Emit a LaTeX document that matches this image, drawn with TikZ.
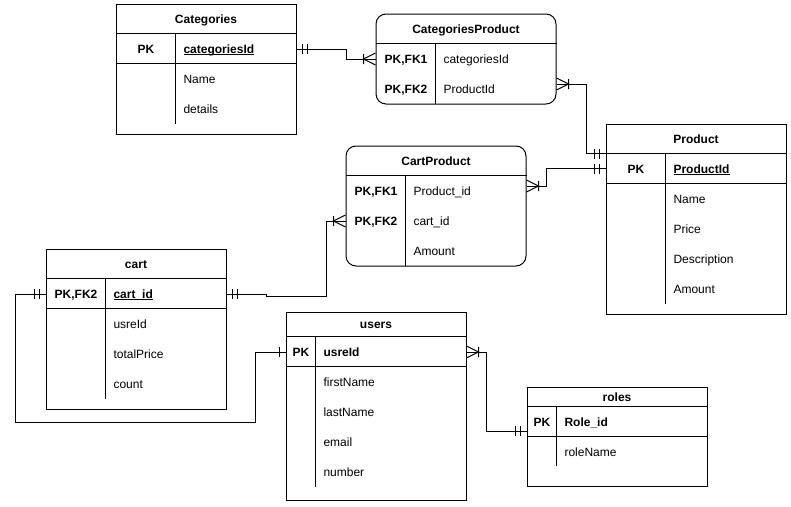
\documentclass[tikz,border=0pt]{standalone}
\usepackage{fontspec}
\setmainfont{Liberation Sans}
\usepackage{tikz}
\usetikzlibrary{calc}
\newcommand{\erfont}{\fontsize{12pt}{14pt}\selectfont}
\newcommand{\keyul}[1]{$\underline{\smash{\hbox{#1}}}$}

\begin{document}
\begin{tikzpicture}[x=1pt,y=-1pt,line width=1pt,font=\erfont]
%
\tikzstyle{tbl}=[draw,shape=rectangle,inner sep=0pt,minimum width=180pt]
\tikzstyle{rtbl}=[tbl,rounded corners=10pt]
\tikzstyle{ttl}=[inner sep=0pt,text height=8pt,text depth=0pt,font=\erfont\bfseries]
\tikzstyle{key}=[ttl]
\tikzstyle{fld}=[anchor=west,inner sep=0pt,text height=8pt,text depth=0pt]
\tikzstyle{kfld}=[fld,font=\erfont\bfseries]
\tikzset{
  mand/.pic={\draw (6,-5) -- (6,5) (11,-5) -- (11,5);},
  one/.pic={\draw (6,-5) -- (6,5);},
  crow/.pic={\draw (0,-6) -- (12,0) -- (0,6) (12,-5) -- (12,5);}
}
\useasboundingbox (0,0) rectangle (791,506);
%
% Categories
\node[tbl,minimum height=130pt](cat) at (206,69){};
\draw ([yshift=-30pt]cat.north west) -- ([yshift=-30pt]cat.north east);
\draw ([yshift=-60pt]cat.north west) -- ([yshift=-60pt]cat.north east);
\draw ([xshift=60pt,yshift=-30pt]cat.north west) -- ++(0,90);
\node[ttl](catttl) at (206,19){Categories};
\node[key](catpk) at (146,49){PK};
\node[kfld](catid) at (183,49){\keyul{categoriesId}};
\node[fld](catname) at (183,79){Name};
\node[fld](catdet) at (183,109){details};
%
% CategoriesProduct
\node[rtbl,minimum height=90pt](catprod) at (466,59){};
\draw ([yshift=-30pt]catprod.north west) -- ([yshift=-30pt]catprod.north east);
\draw ([xshift=60pt,yshift=-30pt]catprod.north west) -- ++(0,60);
\node[ttl](cpttl) at (466,29){CategoriesProduct};
\node[key](cpk1) at (406,59){PK,FK1};
\node[key](cpk2) at (406,89){PK,FK2};
\node[fld](cpcid) at (443,59){categoriesId};
\node[fld](cppid) at (443,89){ProductId};
%
% Product
\node[tbl,minimum height=190pt](prod) at (696,219){};
\draw ([yshift=-30pt]prod.north west) -- ([yshift=-30pt]prod.north east);
\draw ([yshift=-60pt]prod.north west) -- ([yshift=-60pt]prod.north east);
\draw ([xshift=60pt,yshift=-30pt]prod.north west) -- ++(0,150);
\node[ttl](prodttl) at (696,139){Product};
\node[key](prodpk) at (636,169){PK};
\node[kfld](prodid) at (673,169){\keyul{ProductId}};
\node[fld](prodname) at (673,199){Name};
\node[fld](prodprice) at (673,229){Price};
\node[fld](proddesc) at (673,259){Description};
\node[fld](prodamt) at (673,289){Amount};
%
% CartProduct
\node[rtbl,minimum height=120pt](cartprod) at (436,206){};
\draw ([yshift=-30pt]cartprod.north west) -- ([yshift=-30pt]cartprod.north east);
\draw ([xshift=60pt,yshift=-30pt]cartprod.north west) -- ++(0,90);
\node[ttl](cpdttl) at (436,161){CartProduct};
\node[key](cpdk1) at (376,191){PK,FK1};
\node[key](cpdk2) at (376,221){PK,FK2};
\node[fld](cpdpid) at (413,191){Product\_id};
\node[fld](cpdcart) at (413,221){cart\_id};
\node[fld](cpdamt) at (413,251){Amount};
%
% cart
\node[tbl,minimum height=160pt](cart) at (136,329){};
\draw ([yshift=-30pt]cart.north west) -- ([yshift=-30pt]cart.north east);
\draw ([yshift=-60pt]cart.north west) -- ([yshift=-60pt]cart.north east);
\draw ([xshift=60pt,yshift=-30pt]cart.north west) -- ++(0,120);
\node[ttl](cartttl) at (136,264){cart};
\node[key](cartpk) at (76,294){PK,FK2};
\node[kfld](cartid) at (113,294){\keyul{cart\_id}};
\node[fld](cartusr) at (113,324){usreId};
\node[fld](carttot) at (113,354){totalPrice};
\node[fld](cartcnt) at (113,384){count};
%
% users
\node[tbl,minimum height=188pt](users) at (376,406){};
\draw ([yshift=-25pt]users.north west) -- ([yshift=-25pt]users.north east);
\draw ([yshift=-55pt]users.north west) -- ([yshift=-55pt]users.north east);
\draw ([xshift=30pt,yshift=-25pt]users.north west) -- ++(0,150);
\node[ttl](usrttl) at (376,324.5){users};
\node[key](usrpk) at (301,352){PK};
\node[kfld](usrid) at (323,352){usreId};
\node[fld](usrfirst) at (323,382){firstName};
\node[fld](usrlast) at (323,412){lastName};
\node[fld](usrmail) at (323,442){email};
\node[fld](usrnum) at (323,472){number};
%
% roles
\node[tbl,minimum height=99pt](roles) at (617,436.5){};
\draw ([yshift=-20pt]roles.north west) -- ([yshift=-20pt]roles.north east);
\draw ([yshift=-50pt]roles.north west) -- ([yshift=-50pt]roles.north east);
\draw ([xshift=30pt,yshift=-20pt]roles.north west) -- ++(0,59);
\node[ttl](rolttl) at (617,397){roles};
\node[key](rolpk) at (542,422){PK};
\node[kfld](roleid) at (564,422){Role\_id};
\node[fld](rolname) at (564,452){roleName};
%
% relations
\draw (cat.east |- catid) -- ++(50,0) |- (catprod.west |- cpcid);
\pic at (cat.east |- catid) {mand};
\pic[rotate=180] at (catprod.west |- cpcid) {crow};
%
\draw ($(catprod.east |- cppid)+(0,-5)$) -- ++(30,0) |- ($(prod.north west)+(0,30)$);
\pic at ($(catprod.east |- cppid)+(0,-5)$) {crow};
\pic[rotate=180] at ($(prod.north west)+(0,30)$) {mand};
%
\draw ($(cartprod.east |- cpdpid)+(0,-5)$) -- ++(20,0) |- ($(prod.north west)+(0,45)$);
\pic at ($(cartprod.east |- cpdpid)+(0,-5)$) {crow};
\pic[rotate=180] at ($(prod.north west)+(0,45)$) {mand};
%
\draw (cart.east |- cartid) -- ++(40,0) -- ++(0,2) -- ++(60,0) |- (cartprod.west |- cpdcart);
\pic at (cart.east |- cartid) {mand};
\pic[rotate=180] at (cartprod.west |- cpdcart) {crow};
%
\draw (cart.west |- cartid) -- ++(-30,0) -- ++(0,128) -- ++(240,0) |- (users.west |- usrid);
\pic[rotate=180] at (cart.west |- cartid) {mand};
\pic[rotate=180] at (users.west |- usrid) {one};
%
\draw (users.east |- usrid) -- ++(20,0) |- ($(roles.west |- roleid)+(0,9)$);
\pic at (users.east |- usrid) {crow};
\pic[rotate=180] at ($(roles.west |- roleid)+(0,9)$) {mand};
\end{tikzpicture}
\end{document}
